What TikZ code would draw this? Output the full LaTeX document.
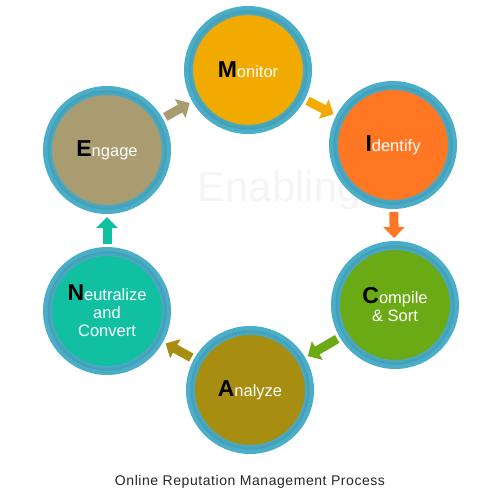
\documentclass[tikz,border=0pt]{standalone}
\usepackage{fontspec}
\setmainfont{Liberation Sans}
\newfontfamily\titlefont[LetterSpace=4]{Liberation Sans}
\usepackage{tikz}
\usetikzlibrary{arrows.meta}

\definecolor{ringblue}{HTML}{4BAEC8}
\definecolor{monitorc}{HTML}{F0AA00}
\definecolor{identifyc}{HTML}{FF7722}
\definecolor{compilec}{HTML}{6AAA14}
\definecolor{analyzec}{HTML}{A88E10}
\definecolor{neutralc}{HTML}{10C0A0}
\definecolor{engagec}{HTML}{A89C70}

\newcommand{\firstletter}[1]{{\color{black}\bfseries\fontsize{23}{23}\selectfont #1}}

\begin{document}
\begin{tikzpicture}[x=1pt,y=-1pt,
  stage node/.style={circle, draw=ringblue, line width=9pt, minimum size=119pt,
    text=white, align=center, font=\fontsize{16.5}{18}\selectfont},
  flow arrow/.style={line width=9pt, shorten >=3pt, shorten <=3pt,
    -{Triangle[width=21pt,length=11pt]}}]

  \useasboundingbox (0,0) rectangle (500,500);

  % watermark, behind the circles
  \node[anchor=base west, text=black!4, font=\fontsize{42}{42}\selectfont] (mark) at (194,201) {Enablingbiz};

  \node[stage node, fill=monitorc] (m) at (248,70) {\firstletter{M}onitor};
  \node[stage node, fill=identifyc] (i) at (393,145) {\firstletter{I}dentify};
  \node[stage node, fill=compilec] (c) at (395,305) {\firstletter{C}ompile\\\& Sort};
  \node[stage node, fill=analyzec] (a) at (250,390) {\firstletter{A}nalyze};
  \node[stage node, fill=neutralc] (n) at (107,311) {\firstletter{N}eutralize\\and\\Convert};
  \node[stage node, fill=engagec] (e) at (107,150) {\firstletter{E}ngage};

  % soft inner shadow
  \foreach \s in {m,i,c,a,n,e}
    \foreach \r/\o in {59/0.08,57.8/0.05,56.6/0.03,55.4/0.015}
      \draw[black, opacity=\o, line width=1.3pt] (\s.center) circle (\r pt);

  \draw[flow arrow, draw=monitorc, fill=monitorc] (m) -- (i);
  \draw[flow arrow, draw=identifyc, fill=identifyc] (i) -- (c);
  \draw[flow arrow, draw=compilec, fill=compilec] (c) -- (a);
  \draw[flow arrow, draw=analyzec, fill=analyzec] (a) -- (n);
  \draw[flow arrow, draw=neutralc, fill=neutralc] (n) -- (e);
  \draw[flow arrow, draw=engagec, fill=engagec] (e) -- (m);

  \node[text=black!85, font=\titlefont\fontsize{14}{14}\selectfont] (title) at (250,482) {Online Reputation Management Process};
\end{tikzpicture}
\end{document}
